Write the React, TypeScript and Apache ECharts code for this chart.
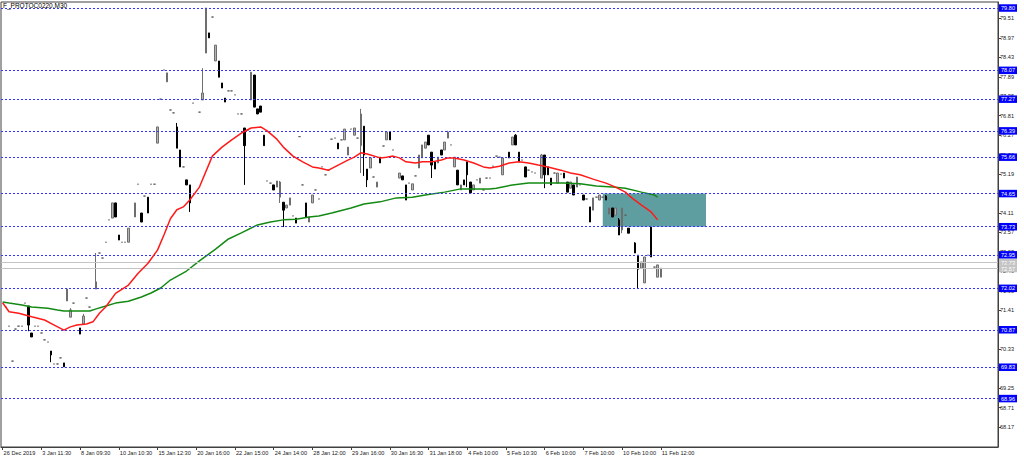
import React, { useEffect, useRef } from "react";
import * as echarts from "echarts";

const TITLE = "F_PROTOC0220,M30";
const BAR_SLOTS = 309;

const tickIndex = [0, 12, 24, 36, 48, 60, 72, 84, 96, 108, 120, 132, 144, 156, 168, 180, 192, 204];
const tickLabels = [
  "26 Dec 2019", "3 Jan 11:30", "8 Jan 09:30", "10 Jan 10:30", "15 Jan 12:30", "20 Jan 16:00",
  "22 Jan 15:00", "24 Jan 14:00", "28 Jan 12:00", "29 Jan 16:00", "30 Jan 16:30", "31 Jan 18:00",
  "4 Feb 10:00", "5 Feb 10:30", "6 Feb 10:00", "7 Feb 10:00", "10 Feb 10:00", "11 Feb 12:00",
];

const priceTicks = [
  68.17, 68.71, 69.25, 69.79, 70.33, 70.87, 71.41, 71.95, 72.49, 73.03, 73.57,
  74.11, 74.65, 75.19, 75.73, 76.27, 76.81, 77.35, 77.89, 78.43, 78.97, 79.51,
];
const priceMin = 67.616;
const priceMax = 79.967;

const levelLines = [79.8, 78.07, 77.27, 76.39, 75.66, 74.65, 73.73, 72.95, 72.02, 70.87, 69.83, 68.96];
const bidAskLines = [72.73, 72.57];

const zoneBars = [186, 218];
const zonePrices = [74.65, 73.73];

// [bar, open, close, low, high]  or [bar, price] for a flat bar
const candleRows: number[][] = [
  [1, 71.5], [2, 70.97], [3, 70.0], [4, 70.89], [5, 70.97], [6, 70.97], [7, 71.61],
  [8, 71.53, 71.0, 70.83, 71.53],
  [9, 70.78, 70.67, 70.67, 70.78],
  [10, 70.97], [11, 70.97], [12, 70.78], [13, 70.59], [14, 70.53],
  [15, 70.28, 70.17, 69.97, 70.28],
  [16, 69.92], [17, 69.92], [18, 70.09],
  [19, 69.95, 69.84, 69.84, 69.95],
  [20, 71.67, 72.0, 71.67, 72.0],
  [21, 71.22, 71.42, 71.22, 71.47],
  [22, 71.61],
  [24, 70.92, 70.75, 70.75, 70.92],
  [25, 71.03, 71.25, 71.03, 71.31],
  [26, 71.75], [27, 71.5],
  [29, 72.0, 72.2, 72.0, 73.0],
  [30, 73.0], [31, 72.86], [32, 73.3], [33, 73.92],
  [34, 73.97, 74.39, 73.97, 74.39],
  [35, 74.39, 74.0, 74.0, 74.39],
  [36, 73.5, 73.36, 73.36, 73.5],
  [37, 73.3], [38, 73.3],
  [39, 73.3, 73.69, 73.3, 73.69],
  [41, 74.0, 74.39, 74.0, 74.39],
  [42, 74.91],
  [43, 74.11, 73.86, 73.86, 74.11],
  [44, 74.58],
  [45, 74.55, 74.11, 74.11, 74.55],
  [46, 74.91], [47, 74.91],
  [48, 76.05, 76.5, 76.05, 76.5],
  [49, 77.27], [50, 78.08],
  [51, 77.75, 78.0, 77.75, 78.0],
  [52, 76.97], [53, 76.89],
  [54, 76.5, 75.91, 75.91, 76.61],
  [55, 75.86, 75.39, 75.39, 75.86],
  [56, 75.39],
  [57, 75.03, 74.89, 74.89, 75.03],
  [58, 74.89, 74.39, 74.14, 74.89],
  [59, 77.16], [60, 77.27], [61, 76.91],
  [62, 77.25, 77.44, 77.25, 78.13],
  [63, 78.55, 79.8, 78.55, 79.8],
  [64, 79.11, 78.97, 78.97, 79.11],
  [65, 79.55],
  [66, 78.33, 78.77, 78.33, 78.77],
  [67, 78.33, 77.88, 77.88, 78.33],
  [68, 77.72, 77.58, 77.58, 77.72],
  [69, 77.3, 77.19, 77.19, 77.3],
  [70, 77.5], [71, 77.5], [72, 77.39], [73, 76.86], [74, 76.86],
  [75, 76.47, 75.98, 74.89, 76.47],
  [76, 76.41],
  [77, 77.25, 78.02, 77.25, 78.02],
  [78, 77.94, 77.05, 77.05, 77.94],
  [79, 77.0, 76.86, 76.86, 77.0],
  [80, 77.08, 76.91, 76.91, 77.08],
  [81, 76.27, 75.98, 75.98, 76.27],
  [82, 75.0], [83, 74.94],
  [84, 74.89, 74.75, 74.75, 74.89],
  [85, 74.83, 75.0, 74.83, 75.0],
  [86, 74.55, 74.97, 74.39, 75.0],
  [87, 74.41, 74.19, 73.72, 74.41],
  [88, 74.25, 74.33, 74.25, 74.33],
  [89, 74.33, 74.53, 74.33, 74.53],
  [90, 74.03],
  [91, 73.97, 73.83, 73.83, 73.97],
  [92, 76.23], [93, 74.89],
  [94, 74.39, 74.0, 74.0, 74.39],
  [95, 73.86, 74.0, 73.86, 74.0],
  [96, 74.39, 74.61, 74.39, 74.61],
  [97, 74.75], [98, 74.5], [99, 75.39], [100, 75.17], [101, 75.3], [102, 76.16], [103, 76.19],
  [104, 76.05, 75.89, 75.89, 76.05],
  [105, 76.14],
  [106, 76.14, 76.44, 76.14, 76.44],
  [107, 75.72, 75.94, 75.72, 75.94],
  [108, 76.44],
  [109, 76.27, 76.47, 76.27, 76.47],
  [110, 76.19],
  [111, 75.98, 76.86, 75.22, 77.0],
  [112, 76.52, 75.72, 75.14, 76.52],
  [113, 75.33, 75.03, 74.83, 75.33],
  [114, 75.36, 75.64, 75.36, 75.64],
  [115, 75.11],
  [116, 74.83, 74.97, 74.83, 74.97],
  [117, 75.66, 75.5, 75.5, 75.66],
  [118, 75.97],
  [119, 76.14, 76.36, 76.14, 76.36],
  [120, 76.36, 76.14, 76.14, 76.36],
  [121, 75.86],
  [123, 75.08, 75.22, 75.08, 75.22],
  [124, 75.14, 75.03, 75.03, 75.14],
  [125, 74.89, 74.47, 74.47, 74.89],
  [126, 74.94],
  [127, 74.75, 74.92, 74.75, 74.92],
  [128, 75.14],
  [129, 75.36, 75.72, 75.36, 75.72],
  [130, 75.64, 76.0, 75.64, 76.0],
  [131, 75.91, 76.08, 75.91, 76.08],
  [132, 76.27, 76.0, 76.0, 76.27],
  [133, 75.8, 75.44, 75.08, 75.8],
  [134, 75.53, 75.33, 75.33, 75.53],
  [135, 75.5, 75.66, 75.5, 75.66],
  [136, 75.86, 75.72, 75.72, 75.86],
  [137, 75.86, 76.08, 75.86, 76.08],
  [138, 76.19, 76.36, 76.19, 76.39],
  [139, 76.0],
  [140, 75.39, 75.66, 75.39, 75.66],
  [141, 75.3, 74.89, 74.89, 75.3],
  [142, 74.75, 74.89, 74.75, 74.89],
  [143, 75.03, 74.89, 74.89, 75.03],
  [144, 75.53, 75.17, 74.83, 75.53],
  [145, 74.97, 74.67, 74.67, 74.97],
  [146, 74.75, 74.89, 74.75, 74.89],
  [147, 75.03],
  [148, 74.94, 75.08, 74.94, 75.08],
  [149, 74.75], [150, 75.08], [151, 75.08], [152, 75.41], [153, 75.69], [154, 75.66],
  [155, 75.17, 75.64, 75.17, 75.64],
  [157, 75.8, 75.64, 75.64, 75.8],
  [158, 76.0, 76.22, 76.0, 76.22],
  [159, 76.27, 76.0, 76.0, 76.3],
  [160, 75.8, 75.53, 75.53, 75.8],
  [161, 75.58],
  [162, 75.39, 75.11, 75.11, 75.39],
  [163, 75.3], [164, 75.25], [165, 75.22],
  [167, 75.08, 75.72, 75.08, 75.75],
  [168, 75.72, 75.17, 74.8, 75.72],
  [169, 75.39, 75.17, 75.17, 75.39],
  [170, 75.08, 74.89, 74.89, 75.08],
  [171, 75.22],
  [172, 74.94, 75.22, 74.94, 75.22],
  [173, 75.19],
  [174, 75.22, 75.08, 75.08, 75.22],
  [175, 74.97, 74.69, 74.69, 74.97],
  [176, 74.8, 74.97, 74.8, 74.97],
  [177, 74.89, 74.61, 74.61, 74.89],
  [178, 74.83, 75.11, 74.83, 75.11],
  [179, 74.89],
  [180, 74.61, 74.47, 74.47, 74.61],
  [181, 74.5],
  [182, 74.28, 73.86, 73.86, 74.28],
  [183, 74.19, 74.53, 74.19, 74.53],
  [184, 74.55],
  [185, 74.47, 74.61, 74.47, 74.61],
  [186, 74.55],
  [187, 74.58, 74.47, 74.47, 74.61],
  [188, 74.08, 74.25, 74.08, 74.25],
  [189, 74.25, 74.0, 74.0, 74.25],
  [190, 74.05, 74.25, 74.05, 74.25],
  [191, 73.92, 73.5, 73.5, 73.97],
  [192, 73.64, 74.25, 73.55, 74.25],
  [193, 74.05],
  [194, 73.69, 73.55, 73.55, 73.69],
  [196, 73.28, 73.0, 73.0, 73.3],
  [197, 72.94, 72.55, 72.03, 72.94],
  [198, 72.58, 72.75, 72.58, 72.75],
  [199, 72.17, 72.89, 72.17, 72.89],
  [200, 72.94],
  [201, 73.72, 72.89, 72.89, 73.72],
  [202, 72.61],
  [203, 72.33, 72.67, 72.33, 72.67],
  [204, 72.33, 72.58, 72.33, 72.58],
];

// fast (red) moving average: [bar, value]
const maFast: number[][] = [
  [0, 71.62], [2, 71.37], [5, 71.33], [9, 71.23], [13, 71.14], [16, 71.0], [19, 70.86], [21, 70.95],
  [23, 71.0], [26, 71.03], [28, 71.09], [30, 71.33], [32, 71.51], [35, 71.88], [39, 72.11], [42, 72.44],
  [45, 72.71], [48, 73.08], [50, 73.5], [52, 73.95], [54, 74.2], [56, 74.28], [58, 74.47], [61, 74.83],
  [65, 75.69], [68, 75.94], [71, 76.14], [74, 76.33], [77, 76.47], [80, 76.5], [82, 76.39], [85, 76.16],
  [87, 75.94], [90, 75.69], [93, 75.53], [96, 75.39], [98, 75.36], [101, 75.3], [104, 75.44], [107, 75.58],
  [109, 75.66], [111, 75.78], [113, 75.75], [117, 75.64], [119, 75.66], [121, 75.69], [123, 75.64],
  [125, 75.53], [128, 75.5], [130, 75.53], [133, 75.53], [136, 75.58], [138, 75.64], [140, 75.64],
  [143, 75.58], [146, 75.5], [149, 75.39], [151, 75.36], [154, 75.41], [157, 75.5], [160, 75.53],
  [163, 75.5], [166, 75.44], [169, 75.39], [173, 75.3], [176, 75.22], [179, 75.17], [183, 75.05],
  [187, 74.94], [190, 74.83], [193, 74.69], [195, 74.53], [198, 74.33], [201, 74.14], [203, 73.92],
];

// slow (green) moving average: [bar, value]
const maSlow: number[][] = [
  [0, 71.64], [2, 71.61], [6, 71.56], [9, 71.5], [14, 71.47], [17, 71.42], [19, 71.39], [23, 71.39],
  [27, 71.39], [29, 71.45], [32, 71.53], [35, 71.61], [39, 71.66], [43, 71.78], [46, 71.89], [49, 72.03],
  [52, 72.25], [57, 72.5], [61, 72.78], [66, 73.11], [70, 73.39], [74, 73.56], [79, 73.78], [83, 73.86],
  [87, 73.92], [91, 73.94], [95, 74.0], [98, 74.03], [102, 74.11], [108, 74.25], [112, 74.36],
  [117, 74.42], [122, 74.53], [127, 74.55], [131, 74.61], [137, 74.69], [142, 74.78], [147, 74.78],
  [151, 74.78], [153, 74.8], [158, 74.89], [163, 74.94], [169, 74.94], [174, 74.94], [179, 74.92],
  [184, 74.86], [189, 74.83], [193, 74.8], [198, 74.69], [202, 74.61], [203, 74.55],
];

const FONT = "'Liberation Sans', Arial, sans-serif";
const FS = 5.6;

export default function App() {
  const ref = useRef<HTMLDivElement>(null);

  useEffect(() => {
    if (!ref.current) return;
    const chart = echarts.init(ref.current, null, { renderer: "svg" });

    const labelAt: Record<number, string> = {};
    tickIndex.forEach((k, j) => (labelAt[k] = tickLabels[j]));
    const slots = Array.from({ length: BAR_SLOTS }, (_, i) => String(i));
    const ohlc = candleRows.map((r) => (r.length === 2 ? [r[0], r[1], r[1], r[1], r[1]] : r));

    const levelLabel = (bg: string) => ({
      show: true,
      position: "end",
      distance: 1,
      formatter: (p: any) => Number(p.value).toFixed(2),
      backgroundColor: bg,
      color: "#ffffff",
      fontSize: FS,
      lineHeight: 6.5,
      padding: [1, 2, 0, 2],
      fontFamily: FONT,
    });

    const markLineData = [
      ...levelLines.map((v) => ({
        yAxis: v,
        lineStyle: { color: "#3535ff", width: 1, type: [2, 2] },
        label: levelLabel("#0000ff"),
      })),
      ...bidAskLines.map((v) => ({
        yAxis: v,
        lineStyle: { color: "#c4c4c4", width: 1, type: "solid" },
        label: levelLabel("#c4c4c4"),
      })),
    ];

    const option: any = {
      animation: false,
      backgroundColor: "#ffffff",
      dataset: [{ source: ohlc }],
      grid: {
        left: 1,
        top: 2,
        width: 997,
        height: 445,
        show: true,
        borderColor: "#404040",
        borderWidth: 1,
        backgroundColor: "transparent",
      },
      xAxis: {
        type: "category",
        data: slots,
        boundaryGap: true,
        axisLine: { show: true, lineStyle: { color: "#404040" } },
        axisTick: {
          show: true,
          alignWithLabel: true,
          length: 3,
          interval: (idx: number) => labelAt[idx] !== undefined,
          lineStyle: { color: "#404040" },
        },
        axisLabel: {
          interval: (idx: number) => labelAt[idx] !== undefined,
          formatter: (_v: string, idx: number) => labelAt[idx] ?? "",
          align: "left",
          padding: [0, 0, 0, 1],
          margin: 3,
          fontSize: FS,
          color: "#202020",
          fontFamily: FONT,
        },
        splitLine: { show: false },
      },
      yAxis: {
        type: "value",
        position: "right",
        min: priceMin,
        max: priceMax,
        axisLine: { show: true, lineStyle: { color: "#404040" } },
        axisTick: { show: true, length: 3, customValues: priceTicks, lineStyle: { color: "#404040" } },
        axisLabel: {
          customValues: priceTicks,
          formatter: (v: number) => v.toFixed(2),
          fontSize: FS,
          margin: 2,
          color: "#202020",
          fontFamily: FONT,
        },
        splitLine: { show: false },
      },
      graphic: [
        {
          type: "text",
          left: 3,
          top: 2,
          z: 100,
          style: { text: TITLE, fontSize: 6.5, fill: "#000000", fontFamily: FONT },
        },
      ],
      series: [
        {
          type: "line",
          name: "levels",
          data: [],
          z: 1,
          silent: true,
          markArea: {
            silent: true,
            itemStyle: { color: "#5f9ea0", opacity: 1 },
            data: [
              [
                { xAxis: zoneBars[0], yAxis: zonePrices[0] },
                { xAxis: zoneBars[1], yAxis: zonePrices[1] },
              ],
            ],
          },
          markLine: {
            silent: true,
            symbol: ["none", "none"],
            data: markLineData,
          },
        },
        {
          type: "candlestick",
          datasetIndex: 0,
          encode: { x: 0, y: [1, 2, 3, 4] },
          barWidth: 2,
          z: 3,
          itemStyle: {
            color: "#b4b4b4",
            borderColor: "#6e6e6e",
            color0: "#000000",
            borderColor0: "#000000",
            borderColorDoji: "#606060",
            borderWidth: 1,
          },
        },
        {
          type: "line",
          name: "slow",
          data: maSlow,
          showSymbol: false,
          symbol: "none",
          z: 4,
          lineStyle: { color: "#138a13", width: 1.5 },
        },
        {
          type: "line",
          name: "fast",
          data: maFast,
          showSymbol: false,
          symbol: "none",
          z: 5,
          lineStyle: { color: "#ff1a1a", width: 1.5 },
        },
      ],
    };

    chart.setOption(option);
    return () => chart.dispose();
  }, []);

  return (
    <div
      ref={ref}
      style={{ position: "fixed", left: 0, top: 0, width: 1024, height: 460, background: "#ffffff" }}
    />
  );
}
